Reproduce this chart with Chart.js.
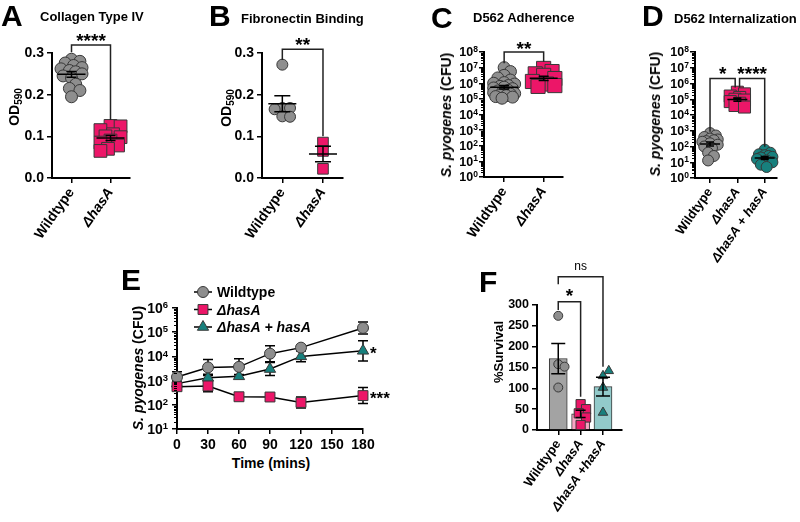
<!DOCTYPE html>
<html>
<head>
<meta charset="utf-8">
<title>hasA phenotypes</title>
<script src="https://cdn.jsdelivr.net/npm/chart.js@4/dist/chart.umd.min.js"></script>
<style>
  body { margin: 0; background: #fff; }
  #fig { position: relative; width: 800px; height: 522px; overflow: hidden; font-family: "Liberation Sans", Arial, sans-serif; color: #000; }
  #fig canvas { position: absolute; }
  .t { position: absolute; z-index: 2; white-space: nowrap; font-weight: bold; line-height: 1; }
  .letter { font-size: 30px; }
  .title { font-size: 13px; }
  .ytitle { font-size: 14px; transform: translate(-50%, -50%) rotate(-90deg); }
  .ytitle sub { font-size: 10px; vertical-align: -3px; line-height: 0; }
</style>
</head>
<body>
<div id="fig">
  <div class="t letter" style="left:1px;top:1px">A</div>
  <div class="t title" style="left:40px;top:10px">Collagen Type IV</div>
  <div class="t letter" style="left:209px;top:1px">B</div>
  <div class="t title" style="left:241px;top:12px">Fibronectin Binding</div>
  <div class="t letter" style="left:431px;top:3px">C</div>
  <div class="t title" style="left:473px;top:11px">D562 Adherence</div>
  <div class="t letter" style="left:642px;top:1px">D</div>
  <div class="t title" style="left:674px;top:12px">D562 Internalization</div>
  <div class="t letter" style="left:121px;top:265px">E</div>
  <div class="t letter" style="left:479px;top:267px">F</div>
  <div class="t ytitle" style="left:14px;top:107px">OD<sub>590</sub></div>
  <div class="t ytitle" style="left:226px;top:108px">OD<sub>590</sub></div>
  <div class="t ytitle" style="left:446px;top:115px"><i>S. pyogenes</i> (CFU)</div>
  <div class="t ytitle" style="left:655px;top:114px"><i>S. pyogenes</i> (CFU)</div>
  <div class="t ytitle" style="left:138px;top:368px"><i>S. pyogenes</i> (CFU)</div>
  <div class="t ytitle" style="left:498px;top:352px;font-size:13px">%Survival</div>
  <div class="t" style="left:271px;top:463px;font-size:14px;transform:translate(-50%,-50%)">Time (mins)</div>
</div>
<script>
const FONT = '"Liberation Sans", Arial, sans-serif';

// A - collagen type IV binding (OD590)
const groupsAB = ['Wildtype', 'ΔhasA'];
const collagenWT = [0.285, 0.28, 0.276, 0.27, 0.265, 0.262, 0.258, 0.255, 0.25, 0.245, 0.24, 0.225, 0.215, 0.21, 0.195];
const collagenHasA = [0.125, 0.124, 0.115, 0.105, 0.1, 0.098, 0.09, 0.085, 0.078, 0.07, 0.065];
const odTicks = [0, 0.1, 0.2, 0.3];

// B - fibronectin binding (OD590)
const fibronectinWT = [0.272, 0.168, 0.168, 0.165, 0.148, 0.147];
const fibronectinHasA = [0.085, 0.065, 0.022];

// C - D562 adherence (CFU)
const adherenceWT = [1.0e7, 5.6e6, 3.2e6, 2.2e6, 1.6e6, 1.1e6, 1.0e6, 8.9e5, 7.1e5, 6.3e5, 5.6e5, 5.0e5,
  4.5e5, 3.5e5, 3.2e5, 2.8e5, 2.5e5, 2.2e5, 2.0e5, 1.8e5, 1.6e5, 1.4e5, 1.3e5, 1.1e5];
const adherenceHasA = [8.9e6, 5.6e6, 4.0e6, 3.2e6, 2.0e6, 1.3e6, 8.9e5, 7.1e5, 6.3e5];
const cfuExponents = [0, 1, 2, 3, 4, 5, 6, 7, 8];

// D - D562 internalization (CFU)
const groupsD = ['Wildtype', 'ΔhasA', 'ΔhasA + hasA'];
const internalWT = [710, 500, 400, 320, 280, 250, 220, 200, 160, 130, 100, 80, 40, 25, 13];
const internalHasA = [2.8e5, 2.2e5, 1.6e5, 1.3e5, 1.0e5, 8.9e4, 7.1e4, 5.6e4, 4.0e4, 3.2e4];
const internalComp = [63, 40, 32, 28, 25, 22, 20, 16, 13, 10, 7, 5];

// E - killing time course, geometric means with SEM in log10 units
const seriesE = ['Wildtype', 'ΔhasA', 'ΔhasA + hasA'];
const timeMins = [0, 30, 60, 90, 120, 180];
const timeTicks = [0, 30, 60, 90, 120, 150, 180];
const killExponents = [1, 2, 3, 4, 5, 6];
const killWT = [1400, 3500, 3700, 13000, 23000, 150000];
const killWTErr = [0.22, 0.33, 0.33, 0.33, 0.08, 0.25];
const killHasA = [560, 600, 215, 210, 125, 240];
const killHasAErr = [0.12, 0.24, 0.06, 0.06, 0.23, 0.33];
const killComp = [750, 1300, 1500, 3000, 10000, 17000];
const killCompErr = [0.1, 0.15, 0.08, 0.27, 0.22, 0.42];

// F - % survival
const groupsF = ['Wildtype', 'ΔhasA', 'ΔhasA +hasA'];
const survivalWT = [274, 158, 152, 102];
const survivalHasA = [62, 50, 40, 30, 12];
const survivalComp = [130, 142, 102, 42];
const survivalTicks = [0, 50, 100, 150, 200, 250, 300];

const GREY = '#8e8e8e', PINK = '#ec1668', TEAL = '#17807d', EDGE = '#383838';
const BAR_COLORS = ['#a3a3a3', '#f6a3c2', '#92caca'];

Chart.defaults.font.family = FONT;
Chart.defaults.font.weight = 'bold';
Chart.defaults.color = '#000';

function stats(vals, log) {
  const v = log ? vals.map(Math.log10) : vals;
  const n = v.length;
  const m = v.reduce((a, b) => a + b, 0) / n;
  const se = Math.sqrt(v.reduce((a, b) => a + (b - m) ** 2, 0) / (n - 1)) / Math.sqrt(n);
  return log ? { mean: 10 ** m, hi: 10 ** (m + se), lo: 10 ** (m - se) } : { mean: m, hi: m + se, lo: m - se };
}

function capText(ctx, text, x, cy, size) {
  ctx.textBaseline = 'alphabetic';
  ctx.fillText(text, x, cy + 0.358 * size);
}
function glyphText(ctx, text, x, cy) {
  ctx.textBaseline = 'alphabetic';
  const m = ctx.measureText(text);
  ctx.fillText(text, x, cy + (m.actualBoundingBoxAscent - m.actualBoundingBoxDescent) / 2);
}
function marker(ctx, style, x, y, r, fill) {
  ctx.beginPath();
  if (style === 'rect') {
    const h = r * Math.SQRT1_2;
    ctx.rect(x - h, y - h, 2 * h, 2 * h);
  } else if (style === 'triangle') {
    ctx.moveTo(x, y - r);
    ctx.lineTo(x + 0.866 * r, y + 0.5 * r);
    ctx.lineTo(x - 0.866 * r, y + 0.5 * r);
    ctx.closePath();
  } else {
    ctx.arc(x, y, r, 0, Math.PI * 2);
  }
  ctx.fillStyle = fill; ctx.fill();
  ctx.strokeStyle = EDGE; ctx.lineWidth = 1; ctx.stroke();
}

// mean +/- SEM lines over dot columns
const summary = {
  id: 'summary',
  afterDatasetsDraw(chart, args, o) {
    if (!o.items) return;
    const { ctx, scales: { x, y } } = chart;
    ctx.save();
    ctx.strokeStyle = '#000';
    ctx.lineWidth = 1.5;
    o.items.forEach(it => {
      const st = stats(chart.data.datasets[it.ds].data.map(p => p.y), o.log);
      const cx = x.getPixelForValue(it.cat);
      const pm = y.getPixelForValue(st.mean), pt = y.getPixelForValue(st.hi), pb = y.getPixelForValue(st.lo);
      ctx.beginPath();
      if (it.mean) { ctx.moveTo(cx - it.mean, pm); ctx.lineTo(cx + it.mean, pm); }
      ctx.moveTo(cx, pt); ctx.lineTo(cx, pb);
      ctx.moveTo(cx - it.cap, pt); ctx.lineTo(cx + it.cap, pt);
      ctx.moveTo(cx - it.cap, pb); ctx.lineTo(cx + it.cap, pb);
      ctx.stroke();
    });
    ctx.restore();
  }
};

// significance brackets
const brackets = {
  id: 'brackets',
  afterDraw(chart, args, o) {
    if (!o.items) return;
    const { ctx, scales: { x, y } } = chart;
    ctx.save();
    ctx.strokeStyle = '#222';
    ctx.fillStyle = '#000';
    ctx.lineWidth = 1.5;
    o.items.forEach(b => {
      const x1 = x.getPixelForValue(b.x1), x2 = x.getPixelForValue(b.x2);
      const yl = y.getPixelForValue(b.y);
      ctx.beginPath();
      ctx.moveTo(x1, y.getPixelForValue(b.y1));
      ctx.lineTo(x1, yl);
      ctx.lineTo(x2, yl);
      ctx.lineTo(x2, y.getPixelForValue(b.y2));
      ctx.stroke();
      ctx.font = b.font;
      ctx.textAlign = 'center';
      glyphText(ctx, b.text, (x1 + x2) / 2, yl - b.gap);
    });
    ctx.restore();
  }
};

// 10^n labels and minor ticks for log axes
const logLabels = {
  id: 'logLabels',
  afterDraw(chart, args, o) {
    if (!o.size) return;
    const s = chart.scales.y, ctx = chart.ctx;
    ctx.save();
    ctx.fillStyle = '#000';
    ctx.strokeStyle = '#000';
    ctx.lineWidth = 1;
    const exps = o.exps;
    exps.forEach((e, k) => {
      const y = s.getPixelForValue(10 ** e);
      if (k < exps.length - 1) {
        for (let m = 2; m < 10; m++) {
          const ym = Math.round(s.getPixelForValue(m * 10 ** e)) + 0.5;
          ctx.beginPath(); ctx.moveTo(s.right, ym); ctx.lineTo(s.right - o.minor, ym); ctx.stroke();
        }
      }
      const xr = s.right - o.gap;
      ctx.textAlign = 'right';
      ctx.textBaseline = 'alphabetic';
      ctx.font = `bold ${o.exp}px ${FONT}`;
      const ew = ctx.measureText(String(e)).width;
      ctx.fillText(String(e), xr, y - 0.358 * o.size - 1.5 + 0.716 * o.exp);
      ctx.font = `bold ${o.size}px ${FONT}`;
      ctx.fillText('10', xr - ew, y + 0.358 * o.size);
    });
    ctx.restore();
  }
};

// error bars, legend and end stars for the time course
const timeExtras = {
  id: 'timeExtras',
  beforeDatasetsDraw(chart, args, o) {
    if (!o.errs) return;
    const { ctx, scales: { x, y } } = chart;
    ctx.save();
    ctx.strokeStyle = '#000';
    ctx.lineWidth = 1.5;
    chart.data.datasets.forEach((ds, i) => ds.data.forEach((p, j) => {
      const f = 10 ** o.errs[i][j];
      const px = x.getPixelForValue(p.x), t = y.getPixelForValue(p.y * f), b = y.getPixelForValue(p.y / f);
      ctx.beginPath();
      ctx.moveTo(px, t); ctx.lineTo(px, b);
      ctx.moveTo(px - o.cap, t); ctx.lineTo(px + o.cap, t);
      ctx.moveTo(px - o.cap, b); ctx.lineTo(px + o.cap, b);
      ctx.stroke();
    }));
    ctx.restore();
  },
  afterDraw(chart, args, o) {
    if (!o.errs) return;
    const { ctx, chartArea: ca, scales: { x, y } } = chart;
    ctx.save();
    chart.data.datasets.forEach((ds, i) => {
      const lx = ca.left + o.legendX, ly = ca.top + o.legendY + i * o.legendGap;
      ctx.strokeStyle = '#000';
      ctx.lineWidth = 1.5;
      ctx.beginPath(); ctx.moveTo(lx - 9, ly); ctx.lineTo(lx + 9, ly); ctx.stroke();
      marker(ctx, ds.pointStyle, lx, ly, ds.pointRadius, ds.pointBackgroundColor);
      ctx.fillStyle = '#000';
      ctx.textAlign = 'left';
      ctx.font = `${ds.label.startsWith('Δ') ? 'italic ' : ''}bold 14px ${FONT}`;
      capText(ctx, ds.label, lx + 14, ly, 14);
    });
    o.ends.forEach(e => {
      const p = chart.data.datasets[e.ds].data[timeMins.length - 1];
      ctx.font = `bold ${e.size}px ${FONT}`;
      ctx.textAlign = 'left';
      glyphText(ctx, e.text, x.getPixelForValue(p.x) + e.dx, y.getPixelForValue(p.y));
    });
    ctx.restore();
  }
};

Chart.register(summary, brackets, logLabels, timeExtras);

function makeCanvas(area, pad) {
  const c = document.createElement('canvas');
  const left = area.L - pad.wy, top = area.T - pad.top;
  const w = area.R + pad.right - left, h = area.B + pad.hx - top;
  c.width = w; c.height = h;
  c.style.left = left + 'px'; c.style.top = top + 'px';
  c.style.width = w + 'px'; c.style.height = h + 'px';
  document.getElementById('fig').appendChild(c);
  return c;
}

const grid = () => ({ drawOnChartArea: false, offset: false, color: '#000', lineWidth: 1.5, tickLength: 5 });
const border = () => ({ color: '#000', width: 2 });

function xCat(names, lo, hi, size, hx) {
  return {
    type: 'linear', min: lo, max: hi, offset: false,
    afterBuildTicks: s => { s.ticks = names.map((n, i) => ({ value: i })); },
    afterFit: s => { s.height = hx; },
    ticks: {
      autoSkip: false, minRotation: 55, maxRotation: 55, padding: 2,
      callback: v => names[v],
      font: c => ({ family: FONT, size, weight: 'bold', style: c.tick && names[c.tick.value].startsWith('Δ') ? 'italic' : 'normal' })
    },
    grid: grid(), border: border()
  };
}
function yLin(ticks, fmt, size, wy) {
  return {
    type: 'linear', min: ticks[0], max: ticks[ticks.length - 1],
    afterBuildTicks: s => { s.ticks = ticks.map(v => ({ value: v })); },
    afterFit: s => { s.width = wy; },
    ticks: { autoSkip: false, callback: fmt, font: { size, weight: 'bold' }, padding: 3 },
    grid: grid(), border: border()
  };
}
function yLog(exps, wy) {
  return {
    type: 'logarithmic', min: 10 ** exps[0], max: 10 ** exps[exps.length - 1],
    afterBuildTicks: s => { s.ticks = exps.map(e => ({ value: 10 ** e })); },
    afterFit: s => { s.width = wy; },
    ticks: { autoSkip: false, callback: () => '' },
    grid: grid(), border: border()
  };
}
function baseOptions(pad, x, y, plugins) {
  return {
    responsive: false, animation: false, events: [],
    layout: { padding: { top: pad.top, right: pad.right, left: 0, bottom: 0 } },
    scales: { x, y },
    plugins: Object.assign({ legend: { display: false }, tooltip: { enabled: false } }, plugins)
  };
}

// spread the dots of each column sideways (bounded), letting them overlap when crowded
function swarm(chart, k, maxOff) {
  const xs = chart.scales.x, ys = chart.scales.y;
  chart.data.datasets.forEach(ds => {
    if (ds.type === 'bar') return;
    const r = ds.pointRadius * (ds.pointStyle === 'rect' ? 0.8 : 1);
    const step = Math.max(1, r * 0.35);
    const cx = xs.getPixelForValue(ds.cat);
    const placed = [];
    ds.data.forEach(p => {
      const py = ys.getPixelForValue(p.y);
      let best = 0, bestD = -1;
      for (let n = 0; ; n++) {
        const off = (n % 2 ? 1 : -1) * Math.ceil(n / 2) * step;
        if (Math.abs(off) > maxOff) break;
        const d = placed.reduce((m, q) => Math.min(m, Math.hypot(q.x - off, q.y - py)), Infinity);
        if (d >= r * k) { best = off; break; }
        if (d > bestD) { bestD = d; best = off; }
      }
      placed.push({ x: best, y: py });
      p.x = xs.getValueForPixel(cx + best);
    });
  });
  chart.update('none');
}

function dotChart(area, pad, x, y, groups, plugins) {
  const chart = new Chart(makeCanvas(area, pad), {
    type: 'scatter',
    data: {
      datasets: groups.map((g, i) => ({
        cat: i, data: g.values.map(v => ({ x: i, y: v })),
        pointStyle: g.style, pointRadius: g.r, backgroundColor: g.fill,
        borderColor: EDGE, borderWidth: 1, clip: false
      }))
    },
    options: baseOptions(pad, x, y, plugins)
  });
  swarm(chart, pad.k, pad.spread);
  return chart;
}

const fmt1 = v => v.toFixed(1);

// A
dotChart({ L: 52, T: 53, R: 134, B: 178 }, { wy: 46, top: 26, right: 6, hx: 70, k: 1.2, spread: 12 },
  xCat(groupsAB, -0.5, 1.5, 14, 70), yLin(odTicks, fmt1, 14, 46),
  [{ values: collagenWT, style: 'circle', r: 6, fill: GREY },
   { values: collagenHasA, style: 'rect', r: 9, fill: PINK }],
  {
    summary: { items: [{ ds: 0, cat: 0, mean: 14, cap: 5 }, { ds: 1, cat: 1, mean: 14, cap: 5 }] },
    brackets: { items: [{ x1: 0, x2: 1, y: 0.319, y1: 0.302, y2: 0.139, text: '****', font: `bold 19px ${FONT}`, gap: 8 }] }
  });

// B
dotChart({ L: 262, T: 53, R: 345, B: 178 }, { wy: 46, top: 26, right: 6, hx: 70, k: 1.2, spread: 12 },
  xCat(groupsAB, -0.5, 1.48, 14, 70), yLin(odTicks, fmt1, 14, 46),
  [{ values: fibronectinWT, style: 'circle', r: 5.5, fill: GREY },
   { values: fibronectinHasA, style: 'rect', r: 7.5, fill: PINK }],
  {
    summary: { items: [{ ds: 0, cat: 0, mean: 14, cap: 8 }, { ds: 1, cat: 1, mean: 14, cap: 8 }] },
    brackets: { items: [{ x1: 0, x2: 1, y: 0.309, y1: 0.283, y2: 0.1, text: '**', font: `bold 19px ${FONT}`, gap: 8 }] }
  });

// C
dotChart({ L: 484, T: 52, R: 566, B: 177 }, { wy: 46, top: 26, right: 8, hx: 70, k: 1.1, spread: 12 },
  xCat(groupsAB, -0.51, 1.49, 14, 70), yLog(cfuExponents, 46),
  [{ values: adherenceWT, style: 'circle', r: 6, fill: GREY },
   { values: adherenceHasA, style: 'rect', r: 10, fill: PINK }],
  {
    logLabels: { exps: cfuExponents, size: 12.5, exp: 8.5, gap: 6, minor: 3 },
    summary: { log: true, items: [{ ds: 0, cat: 0, mean: 14, cap: 5 }, { ds: 1, cat: 1, mean: 14, cap: 5 }] },
    brackets: { items: [{ x1: 0, x2: 1, y: 1e8, y1: 1.9e7, y2: 2.4e7, text: '**', font: `bold 19px ${FONT}`, gap: 7 }] }
  });

// D
dotChart({ L: 695, T: 52, R: 777, B: 178 }, { wy: 46, top: 26, right: 20, hx: 92, k: 1.1, spread: 8 },
  xCat(groupsD, -0.55, 2.45, 13, 92), yLog(cfuExponents, 46),
  [{ values: internalWT, style: 'circle', r: 5.5, fill: GREY },
   { values: internalHasA, style: 'rect', r: 8.5, fill: PINK },
   { values: internalComp, style: 'circle', r: 5.5, fill: TEAL }],
  {
    logLabels: { exps: cfuExponents, size: 12.5, exp: 8.5, gap: 6, minor: 3 },
    summary: { log: true, items: [{ ds: 0, cat: 0, mean: 10, cap: 4 }, { ds: 1, cat: 1, mean: 10, cap: 4 }, { ds: 2, cat: 2, mean: 10, cap: 4 }] },
    brackets: { items: [
      { x1: 0, x2: 0.92, y: 2.1e6, y1: 870, y2: 5.6e5, text: '*', font: `bold 19px ${FONT}`, gap: 8 },
      { x1: 1.08, x2: 2, y: 2.1e6, y1: 5.6e5, y2: 98, text: '****', font: `bold 19px ${FONT}`, gap: 8 }
    ] }
  });

// E
(function () {
  const pad = { wy: 46, top: 30, right: 36, hx: 24 };
  const styles = [
    { data: killWT, style: 'circle', r: 5.5, fill: GREY, order: 1 },
    { data: killHasA, style: 'rect', r: 7, fill: PINK, order: 0 },
    { data: killComp, style: 'triangle', r: 6.5, fill: TEAL, order: 2 }
  ];
  new Chart(makeCanvas({ L: 177, T: 308, R: 363, B: 429 }, pad), {
    type: 'line',
    data: {
      datasets: styles.map((s, i) => ({
        label: seriesE[i], order: s.order,
        data: timeMins.map((t, j) => ({ x: t, y: s.data[j] })),
        pointStyle: s.style, pointRadius: s.r, pointBackgroundColor: s.fill,
        pointBorderColor: EDGE, pointBorderWidth: 1,
        borderColor: '#000', borderWidth: 1.5, clip: false
      }))
    },
    options: baseOptions(pad, {
      type: 'linear', min: 0, max: 180,
      afterBuildTicks: s => { s.ticks = timeTicks.map(v => ({ value: v })); },
      afterFit: s => { s.height = pad.hx; },
      ticks: { autoSkip: false, font: { size: 14, weight: 'bold' }, padding: 3, maxRotation: 0 },
      grid: grid(), border: border()
    }, yLog(killExponents, pad.wy), {
      logLabels: { exps: killExponents, size: 14, exp: 9.5, gap: 9, minor: 3 },
      timeExtras: {
        errs: [killWTErr, killHasAErr, killCompErr], cap: 5,
        legendX: 26, legendY: -16, legendGap: 17.5,
        ends: [{ ds: 2, text: '*', dx: 7, size: 17 }, { ds: 1, text: '***', dx: 7, size: 17 }]
      }
    })
  });
})();

// F
(function () {
  const pad = { wy: 44, top: 42, right: 10, hx: 92 };
  const groups = [
    { values: survivalWT, style: 'circle', r: 4.5, fill: GREY },
    { values: survivalHasA, style: 'rect', r: 6.5, fill: PINK },
    { values: survivalComp, style: 'triangle', r: 5.5, fill: TEAL }
  ];
  const datasets = groups.map((g, i) => ({
    type: 'scatter', cat: i, order: 0,
    data: g.values.map(v => ({ x: i, y: v })),
    pointStyle: g.style, pointRadius: g.r, backgroundColor: g.fill,
    borderColor: EDGE, borderWidth: 1, clip: false
  }));
  datasets.push({
    type: 'bar', order: 1,
    data: groups.map((g, i) => ({ x: i, y: stats(g.values).mean })),
    backgroundColor: BAR_COLORS, borderColor: EDGE, borderWidth: 1, barThickness: 18
  });
  const chart = new Chart(makeCanvas({ L: 537, T: 305, R: 622, B: 430 }, pad), {
    type: 'bar',
    data: { datasets },
    options: baseOptions(pad, xCat(groupsF, -0.95, 2.85, 13, pad.hx),
      yLin(survivalTicks, v => String(v), 12.5, pad.wy), {
        summary: { items: [{ ds: 0, cat: 0, mean: 0, cap: 7 }, { ds: 1, cat: 1, mean: 0, cap: 5 }, { ds: 2, cat: 2, mean: 0, cap: 7 }] },
        brackets: { items: [
          { x1: 0, x2: 2, y: 368, y1: 350, y2: 152, text: 'ns', font: `12px ${FONT}`, gap: 10 },
          { x1: 0, x2: 1, y: 308, y1: 288, y2: 80, text: '*', font: `bold 19px ${FONT}`, gap: 9 }
        ] }
      })
  });
  swarm(chart, 1.5, 7);
})();
</script>
</body>
</html>
